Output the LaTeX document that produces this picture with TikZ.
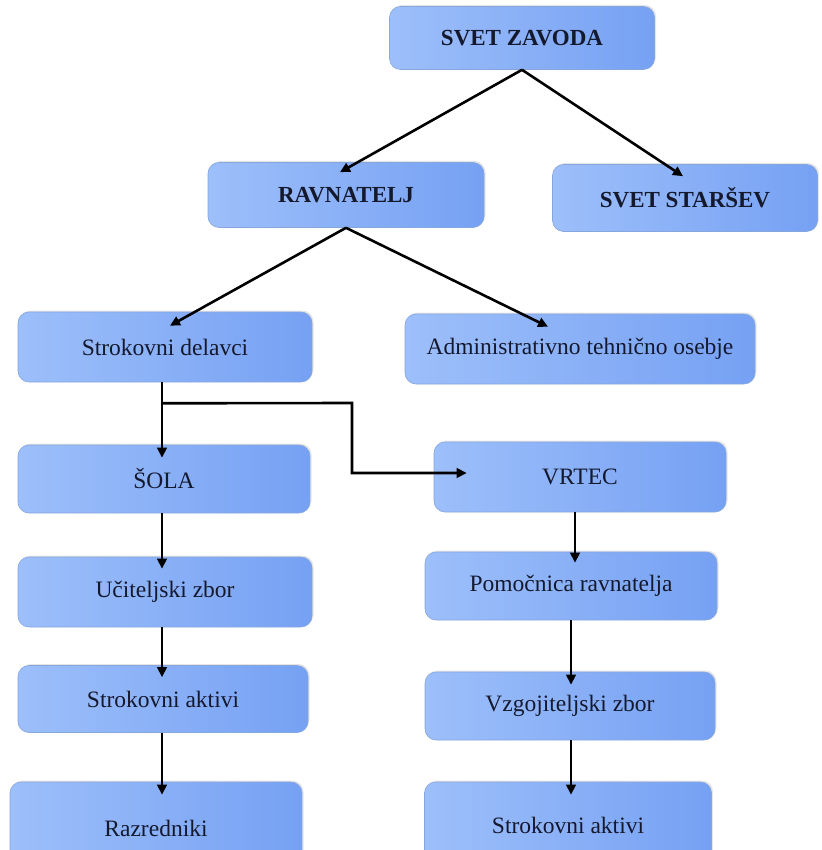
\documentclass[tikz,border=0pt]{standalone}
\usepackage{fontspec}
\setmainfont{Liberation Serif}
\usetikzlibrary{calc,arrows.meta,shadows}
\definecolor{boxL}{HTML}{9DBFFA}
\definecolor{boxR}{HTML}{76A1F3}
\definecolor{boxE}{HTML}{86A6DE}
\definecolor{txt}{HTML}{15192E}
\tikzset{
  orgbox/.style={rounded corners=11pt, left color=boxL, right color=boxR,
    draw=boxE, line width=0.6pt, inner sep=0pt, text=txt,
    font=\fontsize{23.5}{26}\selectfont,
    drop shadow={shadow xshift=1.5pt, shadow yshift=1.5pt, opacity=0.2}},
  bolder/.style={font=\fontsize{23}{26}\selectfont\bfseries},
  arr/.style={line width=2.6pt, -{Triangle[length=10pt,width=9.5pt]}},
}
\begin{document}
\begin{tikzpicture}[x=1pt,y=-1pt]
\useasboundingbox (0,0) rectangle (821,850);
\clip (0,0) rectangle (821,850);
\fill[white] (0,0) rectangle (821,850);

\node[orgbox,bolder,minimum width=265pt,minimum height=63pt] (sz) at (522,38) {SVET ZAVODA};
\node[orgbox,bolder,minimum width=276pt,minimum height=65pt] (rav) at (346,195) {RAVNATELJ};
\node[orgbox,bolder,minimum width=265pt,minimum height=67pt] (ss) at (685,198) {SVET STARŠEV};
\node[orgbox,minimum width=294pt,minimum height=70pt] (sd) at (165,347) {Strokovni delavci};
\node[orgbox,minimum width=350pt,minimum height=70pt] (adm) at (580,349) {Administrativno tehnično osebje};
\node[orgbox,minimum width=292pt,minimum height=68pt] (sola) at (164,479) {ŠOLA};
\node[orgbox,minimum width=292pt,minimum height=70pt] (vrtec) at (580,477) {VRTEC};
\node[orgbox,minimum width=294pt,minimum height=70pt] (uz) at (165,592) {Učiteljski zbor};
\node[orgbox,minimum width=292pt,minimum height=68pt] (pom) at (571,586) {Pomočnica ravnatelja};
\node[orgbox,minimum width=290pt,minimum height=67pt] (sa1) at (163,699) {Strokovni aktivi};
\node[orgbox,minimum width=290pt,minimum height=68pt] (vz) at (570,706) {Vzgojiteljski zbor};
\node[orgbox,minimum width=292pt,minimum height=92pt] (raz) at (156,828) {Razredniki};
\node[orgbox,minimum width=287pt,minimum height=86pt] (sa2) at (568,825) {Strokovni aktivi};

\draw[arr] (sz.south) -- ($(rav.north)+(-6,10)$);
\draw[arr] (sz.south) -- ($(ss.north)+(-2,12)$);
\draw[arr] (rav.south) -- ($(sd.north)+(5,14)$);
\draw[arr] (rav.south) -- ($(adm.north)+(-32,13)$);
\draw[arr] ($(sd.south)+(-3,0)$) -- ($(sola.north)+(-2,13)$);
\coordinate (br) at ($(sd.south)+(-4,21)$);
\coordinate (bend) at (352,403);
\draw[arr] (br) -- (bend) |- ($(vrtec.west)+(33,-4)$);
\draw[arr] ($(sola.south)+(-2,0)$) -- ($(uz.north)+(-3,12)$);
\draw[arr] ($(uz.south)+(-3,0)$) -- ($(sa1.north)+(-1,12)$);
\draw[arr] ($(sa1.south)+(-1,0)$) -- ($(raz.north)+(6,13)$);
\draw[arr] ($(vrtec.south)+(-5,0)$) -- ($(pom.north)+(4,11)$);
\draw[arr] (pom.south) -- ($(vz.north)+(1,13)$);
\draw[arr] ($(vz.south)+(1,0)$) -- ($(sa2.north)+(3,13)$);
\end{tikzpicture}
\end{document}
